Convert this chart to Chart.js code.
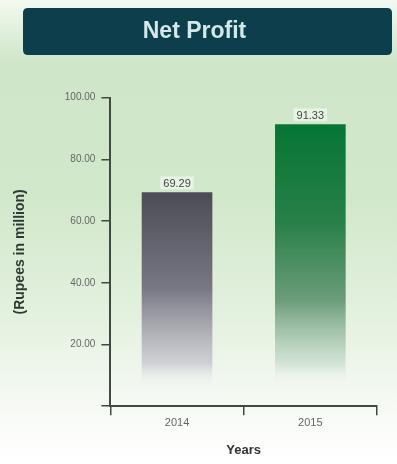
<!DOCTYPE html>
<html>
<head>
<meta charset="utf-8">
<script src="https://cdn.jsdelivr.net/npm/chart.js@4/dist/chart.umd.min.js"></script>
<style>
  html, body { margin: 0; padding: 0; }
  body {
    width: 397px; height: 464px; overflow: hidden;
    background: linear-gradient(to bottom, #f3f9f1 0px, #cfe6c8 62px, #d2e8cb 200px, #e4f1e0 320px, #f8fbf7 415px, #ffffff 464px);
  }
  #wrap { position: relative; width: 397px; height: 464px; }
</style>
</head>
<body>
<div id="wrap"><canvas id="c" width="397" height="464"></canvas></div>
<script>
// Net profit by year (Rupees in million)
const years = ['2014', '2015'];
const netProfit = [69.29, 91.33];
const yTicks = [0, 20, 40, 60, 80, 100];

// Banner behind the chart title
const bannerPlugin = {
  id: 'banner',
  beforeDraw(chart) {
    const t = chart.titleBlock;
    if (!t) return;
    const ctx = chart.ctx;
    const x = 23, y = t.top, w = chart.width - 5 - 23, h = 47, r = 5;
    ctx.save();
    ctx.fillStyle = '#0c3e4b';
    ctx.beginPath();
    ctx.moveTo(x + r, y);
    ctx.lineTo(x + w - r, y);
    ctx.quadraticCurveTo(x + w, y, x + w, y + r);
    ctx.lineTo(x + w, y + h - r);
    ctx.quadraticCurveTo(x + w, y + h, x + w - r, y + h);
    ctx.lineTo(x + r, y + h);
    ctx.quadraticCurveTo(x, y + h, x, y + h - r);
    ctx.lineTo(x, y + r);
    ctx.quadraticCurveTo(x, y, x + r, y);
    ctx.closePath();
    ctx.fill();
    ctx.restore();
  }
};

// Value labels above each bar
const valueLabels = {
  id: 'valueLabels',
  afterDatasetsDraw(chart) {
    const ctx = chart.ctx;
    const meta = chart.getDatasetMeta(0);
    ctx.save();
    ctx.font = '11px "Liberation Sans", Arial, sans-serif';
    ctx.textAlign = 'center';
    ctx.textBaseline = 'bottom';
    meta.data.forEach((bar, i) => {
      const txt = netProfit[i].toFixed(2);
      ctx.fillStyle = 'rgba(255,255,255,0.5)';
      const w = ctx.measureText(txt).width;
      ctx.fillRect(bar.x - w / 2 - 3, bar.y - 16, w + 6, 13);
      ctx.fillStyle = '#3f4a44';
      ctx.fillText(txt, bar.x, bar.y - 3);
    });
    ctx.restore();
  }
};

function barFill(ctx) {
  const chart = ctx.chart;
  const area = chart.chartArea;
  if (!area) return '#555';
  const i = ctx.dataIndex;
  const yScale = chart.scales.y;
  const top = yScale.getPixelForValue(netProfit[i]);
  const g = chart.ctx.createLinearGradient(0, top, 0, area.bottom);
  if (i === 0) {
    g.addColorStop(0, 'rgba(76,76,86,1)');
    g.addColorStop(0.45, 'rgba(120,120,132,1)');
    g.addColorStop(0.8, 'rgba(200,200,208,0.8)');
    g.addColorStop(0.93, 'rgba(255,255,255,0)');
    g.addColorStop(1, 'rgba(255,255,255,0)');
  } else {
    g.addColorStop(0, 'rgba(6,118,52,1)');
    g.addColorStop(0.35, 'rgba(40,128,72,1)');
    g.addColorStop(0.62, 'rgba(100,150,115,0.95)');
    g.addColorStop(0.85, 'rgba(200,220,205,0.7)');
    g.addColorStop(0.94, 'rgba(255,255,255,0)');
    g.addColorStop(1, 'rgba(255,255,255,0)');
  }
  return g;
}

new Chart(document.getElementById('c'), {
  type: 'bar',
  data: {
    labels: years,
    datasets: [{
      data: netProfit,
      backgroundColor: barFill,
      borderWidth: 0,
      barPercentage: 0.53,
      categoryPercentage: 1
    }]
  },
  plugins: [bannerPlugin, valueLabels],
  options: {
    responsive: false,
    animation: false,
    layout: { padding: { top: 8, left: 12, right: 20, bottom: 6 } },
    plugins: {
      legend: { display: false },
      tooltip: { enabled: false },
      title: {
        display: true,
        text: 'Net Profit',
        color: '#d3e8ea',
        align: 'center',
        font: { size: 23, weight: 'bold', family: '"Liberation Sans", Arial, sans-serif' },
        padding: { top: 10, bottom: 52 }
      }
    },
    scales: {
      x: {
        offset: true,
        border: { display: true, color: '#3e4a42', width: 2 },
        grid: { display: true, drawOnChartArea: false, drawTicks: true, tickLength: 9, color: '#3e4a42', lineWidth: 1.5, offset: true },
        ticks: { color: '#666', font: { size: 11, family: '"Liberation Sans", Arial, sans-serif' }, padding: 1 },
        title: { display: true, text: 'Years', color: '#333', font: { size: 13, weight: 'bold', family: '"Liberation Sans", Arial, sans-serif' }, padding: { top: 12, bottom: 0 } }
      },
      y: {
        min: 0, max: 100,
        afterBuildTicks(scale) { scale.ticks = yTicks.map(v => ({ value: v })); },
        border: { display: true, color: '#3e4a42', width: 2 },
        grid: { display: true, drawOnChartArea: false, drawTicks: true, tickLength: 9, color: '#3e4a42', lineWidth: 1.5 },
        ticks: {
          color: '#666',
          font: { size: 10, family: '"Liberation Sans", Arial, sans-serif' },
          padding: 6,
          callback: v => (v === 0 ? '' : v.toFixed(2))
        },
        title: { display: true, text: '(Rupees in million)', color: '#2e3a34', font: { size: 14, weight: 'bold', family: '"Liberation Sans", Arial, sans-serif' }, padding: { top: 0, bottom: 30 } }
      }
    }
  }
});
</script>
</body>
</html>
